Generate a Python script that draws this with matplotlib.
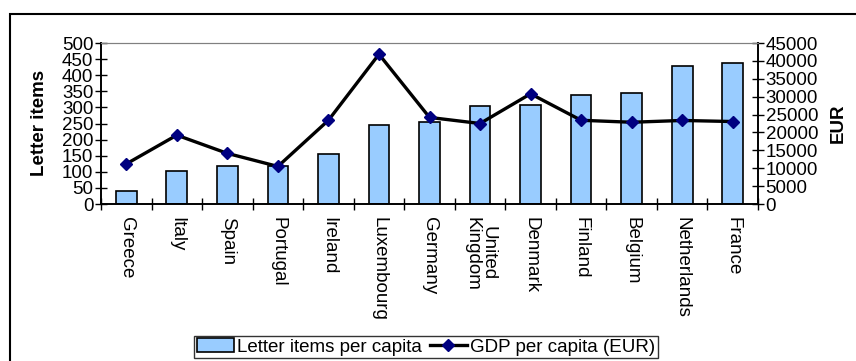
import numpy as np
import matplotlib
matplotlib.use("Agg")
import matplotlib.pyplot as plt
from matplotlib.patches import Rectangle

countries = ["Greece", "Italy", "Spain", "Portugal", "Ireland", "Luxembourg",
             "Germany", "United\nKingdom", "Denmark", "Finland", "Belgium",
             "Netherlands", "France"]
letters = [41, 102, 117, 118, 156, 246, 256, 305, 306, 337, 346, 429, 437]
gdp = [11200, 19250, 14150, 10500, 23400, 41850, 24200, 22500, 30800,
       23400, 22850, 23350, 23050]

plt.rcParams['font.family'] = ['Liberation Sans', 'DejaVu Sans']
fs = 13.5

fig = plt.figure(figsize=(8.56, 3.61), dpi=100)
ax = fig.add_axes([101 / 856, 1 - 204 / 361, 657 / 856, 161 / 361])
ax2 = ax.twinx()

x = np.arange(len(countries))
bars = ax.bar(x, letters, width=0.41, color="#99CCFF", edgecolor="black",
              linewidth=1.2, label="Letter items per capita", zorder=2)
line, = ax2.plot(x, gdp, color="black", lw=2.4, marker="D", ms=6.5,
                 mfc="#000080", mec="#000080", label="GDP per capita (EUR)",
                 zorder=3)

ax.set_xlim(-0.5, len(countries) - 0.5)
ax.set_ylim(0, 500)
ax2.set_ylim(0, 45000)
ax.set_yticks(np.arange(0, 501, 50))
ax2.set_yticks(np.arange(0, 45001, 5000))

ax.set_xticks(x)
ax.set_xticklabels(countries, rotation=-90, va="top", ha="center",
                   multialignment="center", fontsize=fs, linespacing=0.95)
ax.tick_params(axis="x", length=0, pad=9)
ax.set_xticks(np.arange(-0.5, len(countries), 1), minor=True)
ax.tick_params(axis="x", which="minor", direction="inout", length=9, width=1)

ax.tick_params(axis="y", direction="inout", length=9, width=1, labelsize=fs, pad=1)
ax2.tick_params(axis="y", direction="inout", length=9, width=1, labelsize=fs, pad=1)

for a in (ax, ax2):
    a.spines["top"].set_color("#808080")
    a.spines["left"].set_linewidth(1.2)
    a.spines["right"].set_linewidth(1.2)
    a.spines["bottom"].set_linewidth(1.2)

fig.text(40 / 856, 1 - 123 / 361, "Letter items", rotation=90, ha="center",
         va="center", fontsize=fs, fontweight="bold")
fig.text(838 / 856, 1 - 123 / 361, "EUR", rotation=90, ha="center",
         va="center", fontsize=fs, fontweight="bold")

leg = fig.legend([bars, line], ["Letter items per capita", "GDP per capita (EUR)"],
                 loc="center", bbox_to_anchor=(426 / 856, 1 - 347 / 361),
                 ncol=2, fontsize=fs, frameon=True, fancybox=False,
                 edgecolor="black", borderpad=0.15, handlelength=2.0,
                 handletextpad=0.15, columnspacing=0.4, borderaxespad=0)
leg.get_frame().set_linewidth(1.0)

fig.patches.append(Rectangle((9.5 / 856, -0.1), 1.2, 1 - 14 / 361 + 0.1,
                             transform=fig.transFigure, fill=False,
                             edgecolor="black", linewidth=1.5))

fig.savefig("out.png", dpi=100)
